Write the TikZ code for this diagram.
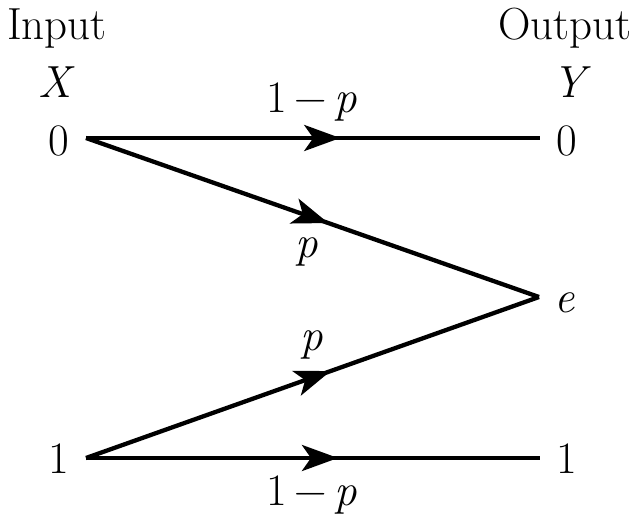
\documentclass[tikz,border=0pt]{standalone}
\usepackage{fontspec}
\usetikzlibrary{arrows.meta,decorations.markings}
\begin{document}
\begin{tikzpicture}[x=1pt,y=-1pt,
  lbl/.style={font=\fontsize{45}{48}\selectfont, inner sep=0pt, anchor=base},
  chan/.style={line width=4.3pt, postaction={decorate},
    decoration={markings, mark=at position #1 with {\arrow{Stealth[length=36pt,width=26pt,inset=9pt]}}}}]
\useasboundingbox (0,0) rectangle (639,527);
% titles
\node[lbl] (tin) at (57,40) {Input};
\node[lbl] (tout) at (565,40) {Output};
\node[lbl] (tx) at (57,97) {\textit{X}};
\node[lbl] (ty) at (572,97) {\textit{Y}};
% symbols
\node[lbl] (x0) at (59,155) {0};
\node[lbl] (x1) at (59,473) {1};
\node[lbl] (y0) at (567,155) {0};
\node[lbl] (ye) at (565,312) {\textit{e}};
\node[lbl] (y1) at (567,473) {1};
% endpoints
\coordinate (a0) at (86,138);
\coordinate (a1) at (86,458);
\coordinate (b0) at (540,138);
\coordinate (be) at (539,297);
\coordinate (b1) at (540,458);
% channels
\draw[chan=0.56] (a0) -- (b0);
\draw[chan=0.535] (a0) -- (be);
\draw[chan=0.54] (a1) -- (be);
\draw[chan=0.555] (a1) -- (b1);
% probabilities
\node[lbl] (l00) at (312,112) {1\,−\,\textit{p}};
\node[lbl] (l0e) at (307,257) {\textit{p}};
\node[lbl] (l1e) at (312,350) {\textit{p}};
\node[lbl] (l11) at (312,505) {1\,−\,\textit{p}};
\end{tikzpicture}
\end{document}
